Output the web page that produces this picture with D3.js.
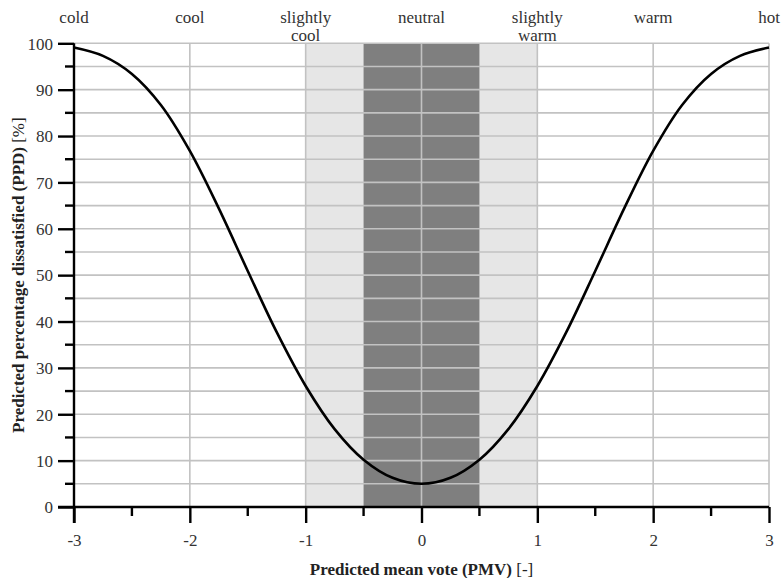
<!DOCTYPE html>
<html><head><meta charset="utf-8">
<script src="https://cdn.jsdelivr.net/npm/d3@7"></script>
<style>body{margin:0;background:#fff}svg{display:block}</style>
</head><body>
<svg id="c" width="782" height="578"></svg>
<script>
// Data
const pmv = [-3,-2.75,-2.5,-2.25,-2,-1.75,-1.5,-1.25,-1,-0.75,-0.5,-0.25,0,0.25,0.5,0.75,1,1.25,1.5,1.75,2,2.25,2.5,2.75,3];
const ppd = [99.1,97.3,93.4,86.7,76.8,64.4,50.9,37.7,26.1,16.8,10.2,6.3,5.0,6.3,10.2,16.8,26.1,37.7,50.9,64.4,76.8,86.7,93.4,97.3,99.1];
const xTicks = [-3,-2,-1,0,1,2,3];
const xMinorTicks = [-2.5,-1.5,-0.5,0.5,1.5,2.5];
const yTicks = [0,10,20,30,40,50,60,70,80,90,100];
const yMinorTicks = [5,15,25,35,45,55,65,75,85,95];
const sensationLabels = [["cold"],["cool"],["slightly","cool"],["neutral"],["slightly","warm"],["warm"],["hot"]];
const sensationPos = [-3,-2,-1,0,1,2,3];
const bandLight = [-1,1];
const bandDark = [-0.5,0.5];

const FONT = '"Liberation Serif"';
const svg = d3.select("#c");
const L=74, R=769, T=43.3, B=507;
const x = d3.scaleLinear().domain([-3,3]).range([L,R]);
const y = d3.scaleLinear().domain([0,100]).range([B,T]);

// bands
svg.append("rect").attr("x",x(bandLight[0])).attr("y",y(100)).attr("width",x(bandLight[1])-x(bandLight[0])).attr("height",y(0)-y(100)).attr("fill","#e6e6e6");
svg.append("rect").attr("x",x(bandDark[0])).attr("y",y(100)).attr("width",x(bandDark[1])-x(bandDark[0])).attr("height",y(0)-y(100)).attr("fill","#7f7f7f");

// grid
const g = svg.append("g").attr("stroke","#c2c2c2").attr("stroke-width",1.6);
yTicks.concat(yMinorTicks).filter(v=>v>0).forEach(v=>{
  g.append("line").attr("x1",L).attr("x2",R).attr("y1",y(v)).attr("y2",y(v));
});
xTicks.filter(v=>v>-3).forEach(v=>{
  g.append("line").attr("x1",x(v)).attr("x2",x(v)).attr("y1",y(0)).attr("y2",y(100));
});

// curve
const line = d3.line().x((d,i)=>x(pmv[i])).y(d=>y(d)).curve(d3.curveCatmullRom.alpha(0.5));
svg.append("path").datum(ppd).attr("d",line).attr("fill","none").attr("stroke","#000").attr("stroke-width",2.6);

// axes
const xAxis = d3.axisBottom(x).tickValues(xTicks).tickSize(16).tickFormat(d=>String(d));
const gx = svg.append("g").attr("transform",`translate(0,${B})`).call(xAxis);
gx.select(".domain").attr("stroke","#000").attr("stroke-width",2.4).attr("d",`M${L-16},0H${R}`);
gx.selectAll(".tick line").attr("stroke","#000").attr("stroke-width",2.4);
gx.selectAll(".tick text").style("font-family",FONT).attr("font-size",17).attr("fill","#333").attr("y",27).attr("dy","0.71em");
gx.selectAll(".minor").data(xMinorTicks).enter().append("line").attr("x1",d=>x(d)).attr("x2",d=>x(d)).attr("y1",0).attr("y2",9).attr("stroke","#000").attr("stroke-width",2.4);

const yAxis = d3.axisLeft(y).tickValues(yTicks).tickSize(16).tickFormat(d=>String(d));
const gy = svg.append("g").attr("transform",`translate(${L},0)`).call(yAxis);
gy.select(".domain").attr("stroke","#000").attr("stroke-width",2.4).attr("d",`M0,${B+16}V${T}`);
gy.selectAll(".tick line").attr("stroke","#000").attr("stroke-width",2.4);
gy.selectAll(".tick text").style("font-family",FONT).attr("font-size",17).attr("fill","#333").attr("x",-21).attr("dy","0.34em");
gy.selectAll(".minor").data(yMinorTicks).enter().append("line").attr("x1",-9).attr("x2",0).attr("y1",d=>y(d)).attr("y2",d=>y(d)).attr("stroke","#000").attr("stroke-width",2.4);

// sensation labels
sensationLabels.forEach((lines,i)=>{
  const t = svg.append("text").attr("x",x(sensationPos[i])).attr("y",23).attr("text-anchor","middle").attr("font-size",17).attr("fill","#333").style("font-family",FONT);
  lines.forEach((s,j)=>t.append("tspan").attr("x",x(sensationPos[i])).attr("dy",j?17.5:0).text(s));
});

// axis titles
const xt = svg.append("text").attr("x",(L+R)/2).attr("y",575).attr("text-anchor","middle").attr("font-size",17).attr("fill","#222").style("font-family",FONT);
xt.append("tspan").attr("font-weight","bold").text("Predicted mean vote (PMV) ");
xt.append("tspan").text("[-]");
const yt = svg.append("text").attr("transform",`translate(24,${(T+B)/2}) rotate(-90)`).attr("text-anchor","middle").attr("font-size",17).attr("fill","#222").style("font-family",FONT);
yt.append("tspan").attr("font-weight","bold").text("Predicted percentage dissatisfied (PPD) ");
yt.append("tspan").text("[%]");
</script>
</body></html>
